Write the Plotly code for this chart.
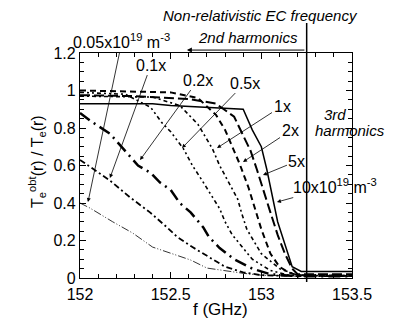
import plotly.graph_objects as go

# ---------------- data ----------------
densities = ["0.05", "0.1", "0.2", "0.5", "1", "2", "5", "10"]

f_005 = [152.0, 152.055, 152.18, 152.29, 152.40, 152.50, 152.61, 152.70, 152.77, 152.9, 153.0, 153.2, 153.5]
v_005 = [0.40, 0.373, 0.30, 0.24, 0.165, 0.133, 0.096, 0.053, 0.043, 0.025, 0.015, 0.01, 0.01]

f_01 = [152.0, 152.165, 152.276, 152.386, 152.48, 152.535, 152.62, 152.70, 152.756, 152.8, 152.9, 153.0, 153.2, 153.5]
v_01 = [0.63, 0.52, 0.43, 0.35, 0.27, 0.22, 0.165, 0.12, 0.085, 0.06, 0.03, 0.015, 0.01, 0.01]

f_02 = [152.0, 152.07, 152.165, 152.28, 152.32, 152.39, 152.44, 152.5, 152.55, 152.61, 152.68, 152.71, 152.77, 152.85, 152.95, 153.05, 153.2, 153.5]
v_02 = [0.88, 0.83, 0.77, 0.64, 0.60, 0.56, 0.51, 0.47, 0.40, 0.35, 0.27, 0.22, 0.16, 0.10, 0.05, 0.02, 0.01, 0.01]

f_05 = [152.0, 152.25, 152.35, 152.39, 152.45, 152.5, 152.57, 152.62, 152.68, 152.72, 152.77, 152.80, 152.84, 152.95, 153.05, 153.15, 153.5]
v_05 = [0.99, 0.98, 0.93, 0.91, 0.83, 0.78, 0.69, 0.60, 0.51, 0.45, 0.37, 0.30, 0.23, 0.10, 0.04, 0.015, 0.01]

f_1 = [152.0, 152.4, 152.55, 152.65, 152.73, 152.77, 152.82, 152.87, 152.89, 152.92, 153.0, 153.1, 153.2, 153.5]
v_1 = [0.97, 0.965, 0.92, 0.82, 0.69, 0.60, 0.51, 0.42, 0.35, 0.26, 0.13, 0.05, 0.015, 0.012]

f_2 = [152.0, 152.5, 152.65, 152.75, 152.8, 152.84, 152.88, 152.93, 152.965, 153.0, 153.05, 153.1, 153.15, 153.2, 153.5]
v_2 = [1.0, 0.99, 0.96, 0.87, 0.79, 0.70, 0.61, 0.48, 0.37, 0.26, 0.13, 0.06, 0.03, 0.015, 0.012]

f_5 = [152.0, 152.3, 152.6, 152.75, 152.85, 152.94, 152.975, 153.0, 153.05, 153.09, 153.13, 153.17, 153.2, 153.5]
v_5 = [0.975, 0.97, 0.955, 0.93, 0.86, 0.68, 0.58, 0.50, 0.35, 0.23, 0.13, 0.05, 0.02, 0.02]

f_10 = [152.0, 152.4, 152.5, 152.9, 152.95, 153.0, 153.03, 153.09, 153.17, 153.2, 153.22, 153.5]
v_10 = [0.93, 0.93, 0.92, 0.90, 0.79, 0.70, 0.58, 0.30, 0.06, 0.045, 0.035, 0.035]

EC_FREQ = 153.25  # non-relativistic EC frequency boundary (GHz)

x_ticks = [152, 152.5, 153, 153.5]
x_tick_text = ["152", "152.5", "153", "153.5"]
y_ticks = [0, 0.2, 0.4, 0.6, 0.8, 1, 1.2]
y_tick_text = ["0", "0.2", "0.4", "0.6", "0.8", "1", "1.2"]

# arrow tip points on the curves for the density labels
label_tip_f = [152.044, 152.165, 152.331, 152.5625, 152.7555, 152.899, 153.009, 153.086]
label_tip_v = [0.405, 0.533, 0.629, 0.693, 0.693, 0.619, 0.549, 0.405]

# ---------------- figure ----------------
series = [
    (f_005, v_005, dict(width=0.8, dash="8px,2px,1px,2px,1px,2px")),
    (f_01, v_01, dict(width=1.8, dash="6px,3px,2px,3px")),
    (f_02, v_02, dict(width=2.5, dash="12px,5px,2px,5px")),
    (f_05, v_05, dict(width=1.6, dash="4px,3px,2px,3px,2px,3px")),
    (f_1, v_1, dict(width=1.6, dash="4px,3px,2px,3px")),
    (f_2, v_2, dict(width=2, dash="6px,4px")),
    (f_5, v_5, dict(width=2, dash="10px,4px")),
    (f_10, v_10, dict(width=1.5, dash="solid")),
]

fig = go.Figure()
for (fx, vy, st), d in zip(series, densities):
    fig.add_trace(go.Scatter(x=fx, y=vy, mode="lines", name=d + "x",
                             line=dict(color="black", **st), showlegend=False))

FONT = "Liberation Sans, Arial, Helvetica, sans-serif"

# the page body adds an 8px margin, so the figure is 8px smaller each way
fig.update_layout(
    width=393, height=315,
    margin=dict(l=72, r=49, t=45, b=45),
    paper_bgcolor="white", plot_bgcolor="white",
    font=dict(family=FONT, size=16, color="black"),
    showlegend=False,
)

axis_common = dict(
    showgrid=False, zeroline=False, showline=True, linecolor="black", linewidth=1.2,
    mirror="allticks", ticks="inside", ticklen=6, tickwidth=1, tickcolor="black",
    tickfont=dict(family=FONT, size=16, color="black"),
)
fig.update_xaxes(range=[152, 153.5], tickvals=x_ticks, ticktext=x_tick_text,
                 ticklabelstandoff=2,
                 minor=dict(ticks="inside", dtick=0.1, tick0=152, ticklen=3.5, tickcolor="black"),
                 **axis_common)
fig.update_yaxes(range=[0, 1.2], tickvals=y_ticks, ticktext=y_tick_text,
                 minor=dict(ticks="inside", dtick=0.05, tick0=0, ticklen=3.5, tickcolor="black"),
                 **axis_common)

# vertical EC frequency line (extends above plot)
fig.add_shape(type="line", xref="x", yref="paper", x0=EC_FREQ, x1=EC_FREQ,
              y0=-0.018, y1=1.133, line=dict(color="black", width=1.5))

# density labels with arrows
label_texts = [
    "0.05x10<sup>19</sup> m<sup>-3</sup>", "0.1x", "0.2x", "0.5x", "1x", "2x", "5x",
    "10x10<sup>19</sup> m<sup>-3</sup>",
]
label_off = [(34, -161), (41, -113), (58, -80), (63, -65), (65, -42), (47, -31), (34, -14), (58, -16)]
for txt, fx, vy, (ax, ay) in zip(label_texts, label_tip_f, label_tip_v, label_off):
    fig.add_annotation(x=fx, y=vy, xref="x", yref="y", text=txt, showarrow=True,
                       ax=ax, ay=ay, arrowhead=2, arrowsize=1, arrowwidth=0.8,
                       arrowcolor="black", standoff=0, startstandoff=0,
                       xanchor="center", yanchor="middle",
                       font=dict(family=FONT, size=16, color="black"))


def paper_text(x, y, text, size=15, angle=0):
    fig.add_annotation(xref="paper", yref="paper", x=x, y=y, showarrow=False,
                       xanchor="center", yanchor="middle", textangle=angle,
                       text=text, font=dict(family=FONT, size=size, color="black"))


# top texts
paper_text(0.662, 1.165, "<i>Non-relativistic EC frequency</i>")
paper_text(0.618, 1.067, "<i>2nd harmonics</i>")
fig.add_annotation(xref="paper", yref="paper", x=0.393, y=1.013, text="",
                   showarrow=True, ax=119, ay=0, arrowhead=2, arrowsize=1,
                   arrowwidth=1, arrowcolor="black")
paper_text(0.9375, 0.728, "<i>3rd</i>")
paper_text(0.993, 0.655, "<i>harmonics</i>")

# axis titles
paper_text(0.515, -0.142, "f (GHz)", size=17)
paper_text(-0.158, 0.516, "T<sub>e</sub><sup>obt</sup>(r) / T<sub>e</sub>(r)", size=16, angle=-90)

fig.write_html("out.html")
